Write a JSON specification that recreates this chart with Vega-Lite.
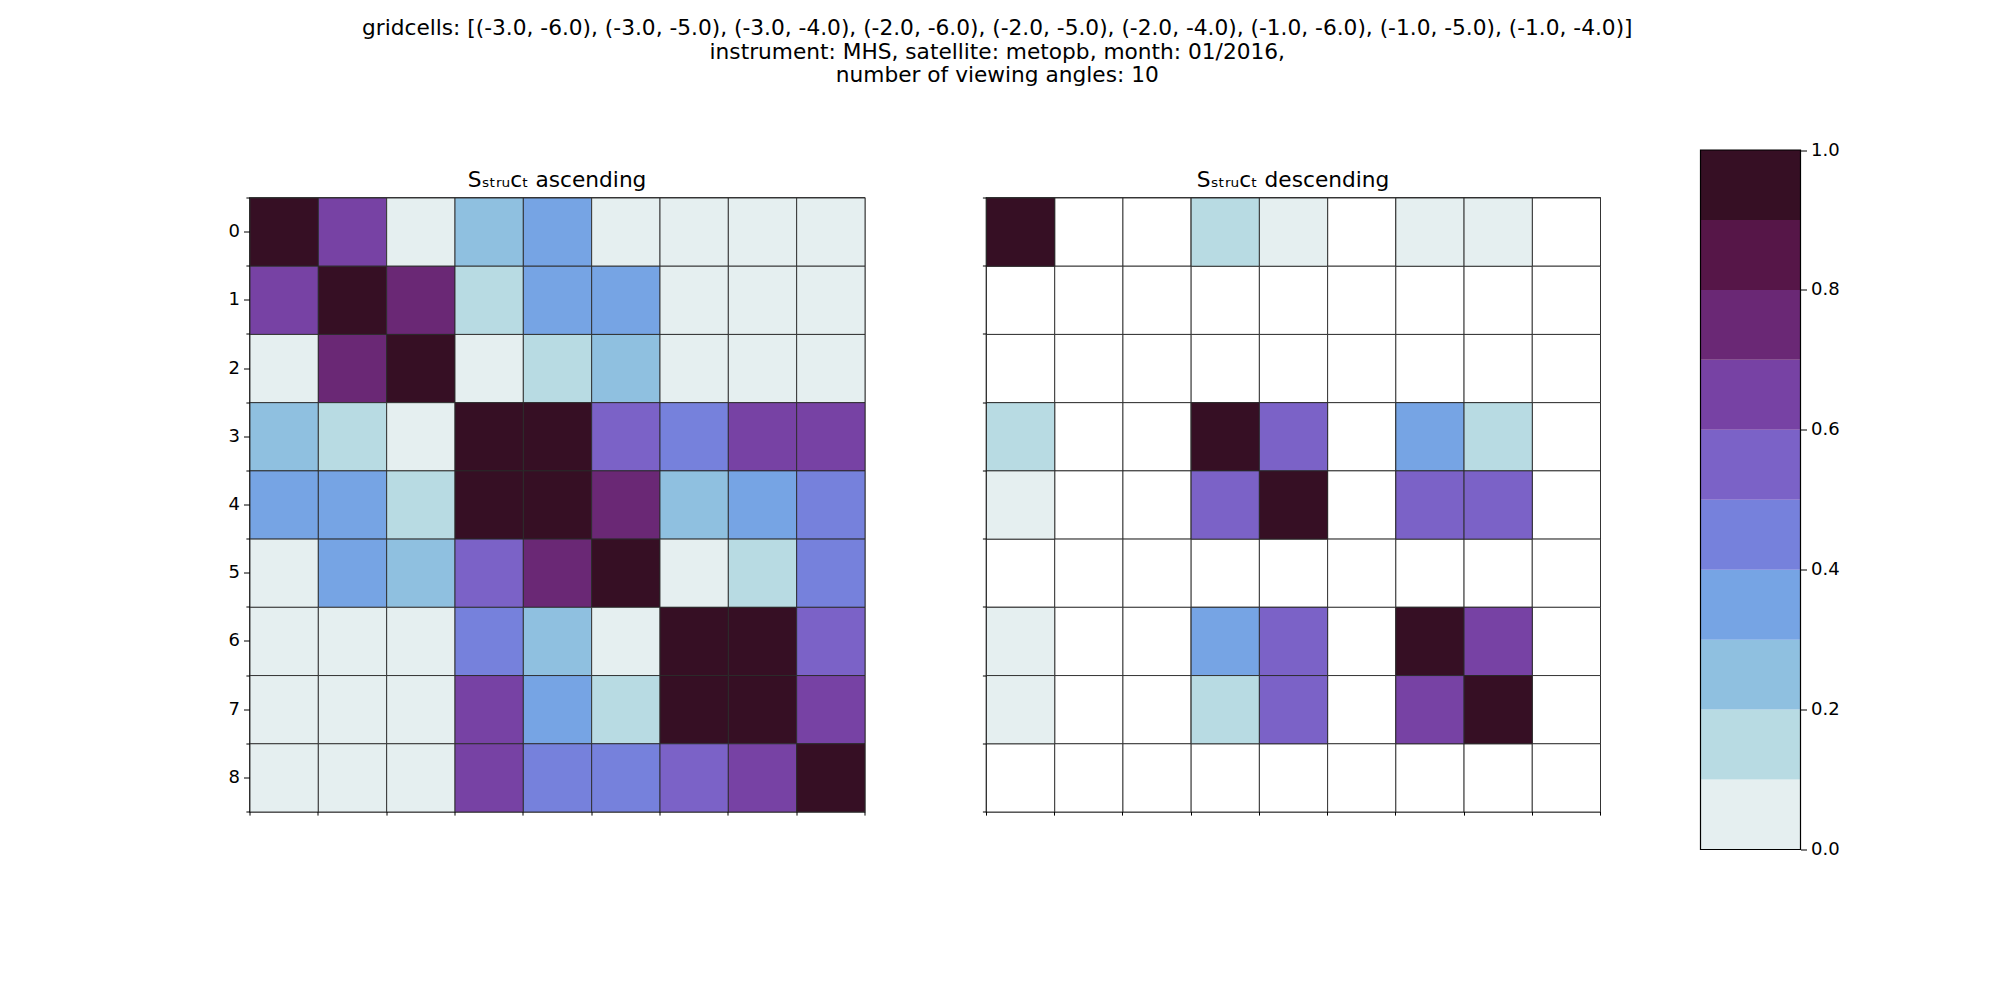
{
  "$schema": "https://vega.github.io/schema/vega-lite/v6.json",
  "background": "white",
  "padding": {"left": 226.5, "top": 17.5, "right": 0, "bottom": 0},
  "title": {
    "text": ["gridcells: [(-3.0, -6.0), (-3.0, -5.0), (-3.0, -4.0), (-2.0, -6.0), (-2.0, -5.0), (-2.0, -4.0), (-1.0, -6.0), (-1.0, -5.0), (-1.0, -4.0)]", "instrument: MHS, satellite: metopb, month: 01/2016,", "number of viewing angles: 10"],
    "fontSize": 21.7, "lineHeight": 23.6, "anchor": "middle", "offset": 54, "dx": -36, "fontWeight": "normal", "color": "black", "font": "DejaVu Sans"
  },
  "datasets": {
    "asc": [
      {"r":0,"c":0,"v":1.0},{"r":0,"c":1,"v":0.65},{"r":0,"c":2,"v":0.04},{"r":0,"c":3,"v":0.25},{"r":0,"c":4,"v":0.35},{"r":0,"c":5,"v":0.04},{"r":0,"c":6,"v":0.03},{"r":0,"c":7,"v":0.03},{"r":0,"c":8,"v":0.03},
      {"r":1,"c":0,"v":0.65},{"r":1,"c":1,"v":1.0},{"r":1,"c":2,"v":0.75},{"r":1,"c":3,"v":0.15},{"r":1,"c":4,"v":0.35},{"r":1,"c":5,"v":0.35},{"r":1,"c":6,"v":0.03},{"r":1,"c":7,"v":0.03},{"r":1,"c":8,"v":0.03},
      {"r":2,"c":0,"v":0.04},{"r":2,"c":1,"v":0.75},{"r":2,"c":2,"v":1.0},{"r":2,"c":3,"v":0.05},{"r":2,"c":4,"v":0.15},{"r":2,"c":5,"v":0.25},{"r":2,"c":6,"v":0.03},{"r":2,"c":7,"v":0.03},{"r":2,"c":8,"v":0.03},
      {"r":3,"c":0,"v":0.25},{"r":3,"c":1,"v":0.15},{"r":3,"c":2,"v":0.05},{"r":3,"c":3,"v":1.0},{"r":3,"c":4,"v":0.95},{"r":3,"c":5,"v":0.55},{"r":3,"c":6,"v":0.45},{"r":3,"c":7,"v":0.65},{"r":3,"c":8,"v":0.65},
      {"r":4,"c":0,"v":0.35},{"r":4,"c":1,"v":0.35},{"r":4,"c":2,"v":0.15},{"r":4,"c":3,"v":0.95},{"r":4,"c":4,"v":1.0},{"r":4,"c":5,"v":0.75},{"r":4,"c":6,"v":0.25},{"r":4,"c":7,"v":0.35},{"r":4,"c":8,"v":0.45},
      {"r":5,"c":0,"v":0.04},{"r":5,"c":1,"v":0.35},{"r":5,"c":2,"v":0.25},{"r":5,"c":3,"v":0.55},{"r":5,"c":4,"v":0.75},{"r":5,"c":5,"v":1.0},{"r":5,"c":6,"v":0.05},{"r":5,"c":7,"v":0.15},{"r":5,"c":8,"v":0.45},
      {"r":6,"c":0,"v":0.03},{"r":6,"c":1,"v":0.03},{"r":6,"c":2,"v":0.03},{"r":6,"c":3,"v":0.45},{"r":6,"c":4,"v":0.25},{"r":6,"c":5,"v":0.05},{"r":6,"c":6,"v":1.0},{"r":6,"c":7,"v":0.95},{"r":6,"c":8,"v":0.55},
      {"r":7,"c":0,"v":0.03},{"r":7,"c":1,"v":0.03},{"r":7,"c":2,"v":0.03},{"r":7,"c":3,"v":0.65},{"r":7,"c":4,"v":0.35},{"r":7,"c":5,"v":0.15},{"r":7,"c":6,"v":0.95},{"r":7,"c":7,"v":1.0},{"r":7,"c":8,"v":0.65},
      {"r":8,"c":0,"v":0.03},{"r":8,"c":1,"v":0.03},{"r":8,"c":2,"v":0.03},{"r":8,"c":3,"v":0.65},{"r":8,"c":4,"v":0.45},{"r":8,"c":5,"v":0.45},{"r":8,"c":6,"v":0.55},{"r":8,"c":7,"v":0.65},{"r":8,"c":8,"v":1.0}
    ],
    "desc": [
      {"r":0,"c":0,"v":1.0},{"r":0,"c":1,"v":null},{"r":0,"c":2,"v":null},{"r":0,"c":3,"v":0.15},{"r":0,"c":4,"v":0.05},{"r":0,"c":5,"v":null},{"r":0,"c":6,"v":0.05},{"r":0,"c":7,"v":0.05},{"r":0,"c":8,"v":null},
      {"r":1,"c":0,"v":null},{"r":1,"c":1,"v":null},{"r":1,"c":2,"v":null},{"r":1,"c":3,"v":null},{"r":1,"c":4,"v":null},{"r":1,"c":5,"v":null},{"r":1,"c":6,"v":null},{"r":1,"c":7,"v":null},{"r":1,"c":8,"v":null},
      {"r":2,"c":0,"v":null},{"r":2,"c":1,"v":null},{"r":2,"c":2,"v":null},{"r":2,"c":3,"v":null},{"r":2,"c":4,"v":null},{"r":2,"c":5,"v":null},{"r":2,"c":6,"v":null},{"r":2,"c":7,"v":null},{"r":2,"c":8,"v":null},
      {"r":3,"c":0,"v":0.15},{"r":3,"c":1,"v":null},{"r":3,"c":2,"v":null},{"r":3,"c":3,"v":1.0},{"r":3,"c":4,"v":0.55},{"r":3,"c":5,"v":null},{"r":3,"c":6,"v":0.35},{"r":3,"c":7,"v":0.15},{"r":3,"c":8,"v":null},
      {"r":4,"c":0,"v":0.05},{"r":4,"c":1,"v":null},{"r":4,"c":2,"v":null},{"r":4,"c":3,"v":0.55},{"r":4,"c":4,"v":1.0},{"r":4,"c":5,"v":null},{"r":4,"c":6,"v":0.55},{"r":4,"c":7,"v":0.55},{"r":4,"c":8,"v":null},
      {"r":5,"c":0,"v":null},{"r":5,"c":1,"v":null},{"r":5,"c":2,"v":null},{"r":5,"c":3,"v":null},{"r":5,"c":4,"v":null},{"r":5,"c":5,"v":null},{"r":5,"c":6,"v":null},{"r":5,"c":7,"v":null},{"r":5,"c":8,"v":null},
      {"r":6,"c":0,"v":0.05},{"r":6,"c":1,"v":null},{"r":6,"c":2,"v":null},{"r":6,"c":3,"v":0.35},{"r":6,"c":4,"v":0.55},{"r":6,"c":5,"v":null},{"r":6,"c":6,"v":1.0},{"r":6,"c":7,"v":0.65},{"r":6,"c":8,"v":null},
      {"r":7,"c":0,"v":0.05},{"r":7,"c":1,"v":null},{"r":7,"c":2,"v":null},{"r":7,"c":3,"v":0.15},{"r":7,"c":4,"v":0.55},{"r":7,"c":5,"v":null},{"r":7,"c":6,"v":0.65},{"r":7,"c":7,"v":1.0},{"r":7,"c":8,"v":null},
      {"r":8,"c":0,"v":null},{"r":8,"c":1,"v":null},{"r":8,"c":2,"v":null},{"r":8,"c":3,"v":null},{"r":8,"c":4,"v":null},{"r":8,"c":5,"v":null},{"r":8,"c":6,"v":null},{"r":8,"c":7,"v":null},{"r":8,"c":8,"v":null}
    ],
    "bar": [
      {"lo":0.0,"hi":0.1},{"lo":0.1,"hi":0.2},{"lo":0.2,"hi":0.3},{"lo":0.3,"hi":0.4},{"lo":0.4,"hi":0.5},
      {"lo":0.5,"hi":0.6},{"lo":0.6,"hi":0.7},{"lo":0.7,"hi":0.8},{"lo":0.8,"hi":0.9},{"lo":0.9,"hi":1.0}
    ]
  },
  "spacing": 97,
  "hconcat": [
    {
      "spacing": 114.5,
      "hconcat": [
        {
          "width": 615, "height": 614,
          "title": {"text": "Sₛₜᵣᵤᴄₜ ascending", "fontSize": 21.7, "offset": 5},
          "data": {"name": "asc"},
          "mark": {"type": "rect", "stroke": "#2a2a2a", "strokeWidth": 0.9, "binSpacing": 0},
          "encoding": {
            "x": {"field": "c", "type": "quantitative", "bin": {"step": 1, "extent": [0, 9]}, "scale": {"domain": [0, 9], "nice": false, "zero": false}, "axis": {"values": [0,1,2,3,4,5,6,7,8,9], "labels": false, "title": null, "tickSize": 3.6}},
            "y": {"field": "r", "type": "quantitative", "bin": {"step": 1, "extent": [0, 9]}, "scale": {"domain": [0, 9], "nice": false, "zero": false, "reverse": true},
                  "axis": {"values": [0,0.5,1,1.5,2,2.5,3,3.5,4,4.5,5,5.5,6,6.5,7,7.5,8,8.5,9], "labelExpr": "datum.value % 1 != 0 ? floor(datum.value) : ''", "title": null,
                           "tickSize": {"condition": {"test": "datum.value % 1 != 0", "value": 6}, "value": 3.6}}},
            "color": {"field": "v", "type": "quantitative", "legend": null, "scale": {"type": "threshold", "domain": [0.1,0.2,0.3,0.4,0.5,0.6,0.7,0.8,0.9], "range": ["#e5eff0","#b8dbe3","#8fc0e0","#76a4e4","#7681dc","#7b62c7","#7742a4","#6a2875","#561648","#360f24"]}}
          }
        },
        {
          "width": 614, "height": 614,
          "title": {"text": "Sₛₜᵣᵤᴄₜ descending", "fontSize": 21.7, "offset": 5},
          "data": {"name": "desc"},
          "layer": [
            {
              "mark": {"type": "rect", "fill": "white", "stroke": "#2a2a2a", "strokeWidth": 0.9, "binSpacing": 0},
              "encoding": {
                "x": {"field": "c", "type": "quantitative", "bin": {"step": 1, "extent": [0, 9]}, "scale": {"domain": [0, 9], "nice": false, "zero": false}, "axis": {"values": [0,1,2,3,4,5,6,7,8,9], "labels": false, "title": null, "tickSize": 3.6}},
                "y": {"field": "r", "type": "quantitative", "bin": {"step": 1, "extent": [0, 9]}, "scale": {"domain": [0, 9], "nice": false, "zero": false, "reverse": true}, "axis": {"values": [0,1,2,3,4,5,6,7,8,9], "labels": false, "title": null, "tickSize": 3.6}}
              }
            },
            {
              "transform": [{"filter": "datum.v != null"}],
              "mark": {"type": "rect", "stroke": "#2a2a2a", "strokeWidth": 0.9, "binSpacing": 0},
              "encoding": {
                "x": {"field": "c", "type": "quantitative", "bin": {"step": 1, "extent": [0, 9]}},
                "y": {"field": "r", "type": "quantitative", "bin": {"step": 1, "extent": [0, 9]}},
                "color": {"field": "v", "type": "quantitative", "legend": null, "scale": {"type": "threshold", "domain": [0.1,0.2,0.3,0.4,0.5,0.6,0.7,0.8,0.9], "range": ["#e5eff0","#b8dbe3","#8fc0e0","#76a4e4","#7681dc","#7b62c7","#7742a4","#6a2875","#561648","#360f24"]}}
              }
            }
          ]
        }
      ]
    },
    {
      "width": 100, "height": 652,
      "view": {"stroke": null},
      "layer": [
        {
          "data": {"name": "bar"},
          "mark": {"type": "rect"},
          "encoding": {
            "y": {"field": "lo", "type": "quantitative", "scale": {"domain": [0, 1], "nice": false, "range": [652, -47.5]}, "axis": {"orient": "right", "values": [0,0.2,0.4,0.6,0.8,1.0], "format": ".1f", "title": null, "tickSize": 6}},
            "y2": {"field": "hi"},
            "color": {"field": "lo", "type": "quantitative", "legend": null, "scale": {"type": "threshold", "domain": [0.1,0.2,0.3,0.4,0.5,0.6,0.7,0.8,0.9], "range": ["#e5eff0","#b8dbe3","#8fc0e0","#76a4e4","#7681dc","#7b62c7","#7742a4","#6a2875","#561648","#360f24"]}}
          }
        },
        {
          "data": {"values": [{}]},
          "mark": {"type": "rect", "fill": null, "fillOpacity": 0, "stroke": "black", "strokeWidth": 1.2},
          "encoding": {
            "y": {"datum": 0, "type": "quantitative"},
            "y2": {"datum": 1}
          }
        }
      ]
    }
  ],
  "resolve": {"scale": {"color": "independent"}},
  "config": {
    "font": "DejaVu Sans",
    "view": {"stroke": "black", "strokeWidth": 1.2},
    "axis": {"labelFont": "DejaVu Sans", "labelFontSize": 18, "labelColor": "black", "tickColor": "black", "tickWidth": 1, "tickSize": 6, "labelPadding": 4, "domain": false, "grid": false},
    "title": {"font": "DejaVu Sans", "fontWeight": "normal", "color": "black"}
  }
}
